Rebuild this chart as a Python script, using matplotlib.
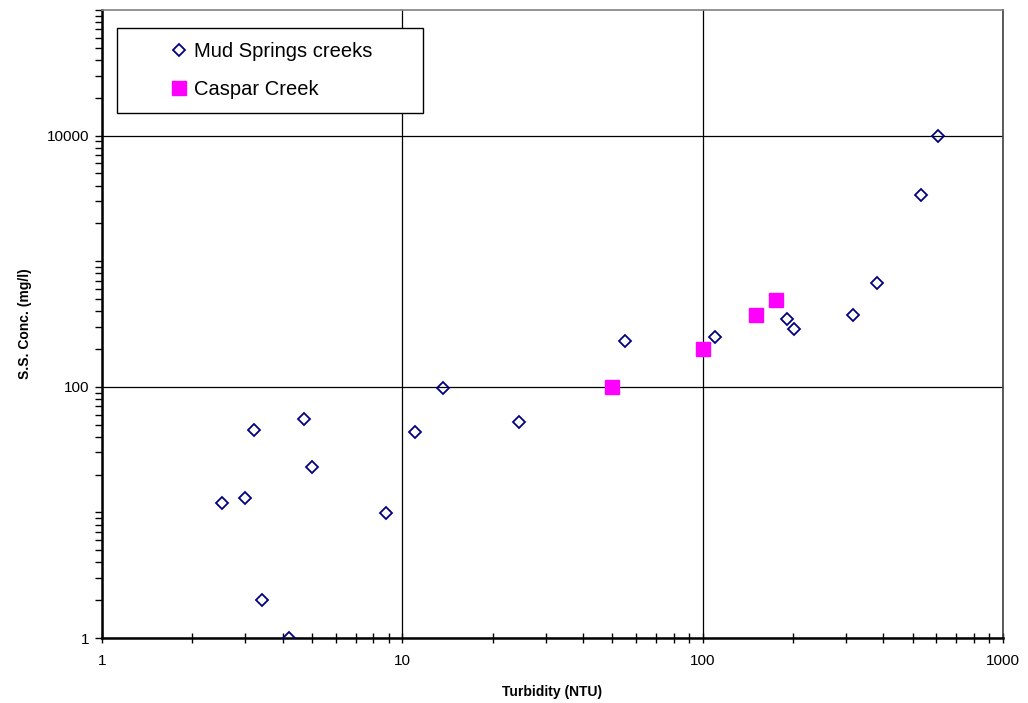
import matplotlib.pyplot as plt
from matplotlib.ticker import FixedLocator, LogLocator, NullFormatter, FuncFormatter

plt.rcParams['font.family'] = ['Liberation Sans', 'DejaVu Sans']

# Mud Springs creeks (turbidity NTU, SS mg/l)
mud_turb = [2.5, 3.0, 3.2, 3.4, 4.2, 4.7, 5.0, 8.8, 11.0, 13.7, 24.5,
            55, 110, 191, 201, 317, 382, 535, 606]
mud_ssc = [11.9, 13.0, 45.7, 2.0, 1.0, 55, 23, 9.9, 44, 97, 52.6,
           230, 247, 348, 286, 373, 670, 3366, 10000]

# Caspar Creek
casp_turb = [50, 100, 151, 176]
casp_ssc = [100, 200, 375, 491]

fig = plt.figure(figsize=(10.28, 7.03), dpi=100)
ax = fig.add_axes([102 / 1028, 1 - 638 / 703, 901 / 1028, 628 / 703])

ax.plot(mud_turb, mud_ssc, linestyle='none', marker='D', markersize=6.2,
        markerfacecolor='none', markeredgecolor='#000080', markeredgewidth=1.3,
        label='Mud Springs creeks', zorder=3)
ax.plot(casp_turb, casp_ssc, linestyle='none', marker='s', markersize=9.5,
        markerfacecolor='#ff00ff', markeredgecolor='#ff00ff',
        label='Caspar Creek', zorder=3)

ax.set_xscale('log')
ax.set_yscale('log')
ax.set_xlim(1, 1000)
ax.set_ylim(1, 100000)

fmt = FuncFormatter(lambda v, p: '%d' % v)
ax.xaxis.set_major_locator(FixedLocator([1, 10, 100, 1000]))
ax.xaxis.set_major_formatter(fmt)
ax.xaxis.set_minor_locator(LogLocator(base=10, subs=range(1, 10)))
ax.xaxis.set_minor_formatter(NullFormatter())
ax.yaxis.set_major_locator(FixedLocator([1, 100, 10000]))
ax.yaxis.set_major_formatter(fmt)
ax.yaxis.set_minor_locator(LogLocator(base=10, subs=range(1, 10)))
ax.yaxis.set_minor_formatter(NullFormatter())

ax.tick_params(axis='x', which='both', direction='inout', length=7, width=1,
               labelsize=11, pad=8)
ax.tick_params(axis='y', which='both', direction='out', length=5, width=1,
               labelsize=11, pad=4)

ax.grid(True, which='major', color='black', linewidth=0.9)
ax.set_axisbelow(True)

for side in ['left', 'bottom']:
    ax.spines[side].set_linewidth(1.8)
    ax.spines[side].set_color('black')
ax.spines['top'].set_color('#808080')
ax.spines['top'].set_linewidth(1.2)
ax.spines['right'].set_color('#404040')
ax.spines['right'].set_linewidth(1.2)

ax.set_xlabel('Turbidity (NTU)', fontsize=10, fontweight='bold', labelpad=12)
ax.set_ylabel('S.S. Conc. (mg/l)', fontsize=10, fontweight='bold', labelpad=11)

# legend box spans x 117..423 px, top at 28 px
leg = ax.legend(loc='upper left', mode='expand',
                bbox_to_anchor=(15 / 901, 1 - 18 / 628, 306 / 901, 0.0),
                fontsize=14.5, frameon=True, fancybox=False, framealpha=1,
                handlelength=4.8, handletextpad=-1.7, borderpad=0.7,
                labelspacing=0.95, borderaxespad=0, markerscale=1.0)
leg.get_frame().set_edgecolor('black')
leg.get_frame().set_linewidth(1.0)
leg.set_zorder(5)

fig.savefig('out.png', dpi=100)
